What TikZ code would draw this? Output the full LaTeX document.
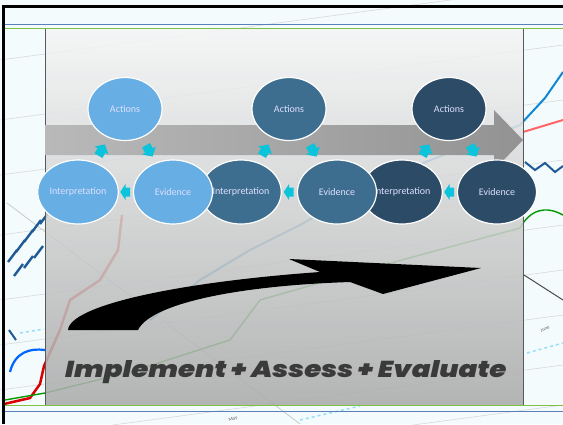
\documentclass[tikz,border=0pt]{standalone}
\usepackage{fontspec}
\setmainfont{Carlito}
\newfontfamily\bannerfont{Poppins Black Italic}
\usetikzlibrary{shapes.geometric, calc}

\definecolor{lightstage}{HTML}{66AEE3}
\definecolor{midstage}{HTML}{3E6E8F}
\definecolor{darkstage}{HTML}{2B4B67}
\definecolor{cyanflow}{HTML}{0BC3DA}
\definecolor{slidebg}{HTML}{F3FBFD}
\definecolor{ruleblue}{HTML}{5B80B8}
\definecolor{rulegreen}{HTML}{7DC242}
\definecolor{bannergray}{HTML}{3A3A3A}
\definecolor{chartblue}{HTML}{1F5A96}

\begin{document}
\begin{tikzpicture}[
    x=1pt, y=-1pt,
    stage/.style={ellipse, draw=white, line width=1.2pt, minimum width=79pt, minimum height=64pt,
        inner sep=0pt, text=white!88!blue, font=\fontsize{10}{11}\selectfont},
    topstage/.style={stage, minimum width=74pt, minimum height=63pt},
    gridline/.style={gray!30, line width=0.6pt},
    flow/.pic={\fill[cyanflow] (-6,-4.5) -- (0,-4.5) -- (0,-8) -- (7,0) -- (0,8) -- (0,4.5) -- (-6,4.5) -- cycle;}
]
\useasboundingbox (0,0) rectangle (563,424);

% Slide background with the chart
\fill[slidebg] (0,0) rectangle (563,424);
\foreach \y in {60,120,175,235,300,345,390,440,480}
    \draw[gridline] (0,\y) -- (563,\y-75);
\draw[gray!45, line width=0.7pt] (7,203) -- (300,424);
\draw[black!70, line width=1pt] (524,275) -- (563,300);
\foreach \x/\y in {8/262,16/252,24/242,32/232,40/224,14/276,24/268,34/258}
    \draw[chartblue, line width=2.4pt] (\x,\y) -- (\x+9,\y-12);
\draw[chartblue, line width=2pt] (9,330) -- (16,340);
\draw[blue!60!cyan, line width=2.2pt] (10,372) .. controls (15,352) and (30,348) .. (45,350);
\draw[red!85!black, line width=2.5pt] (4,404) -- (30,398) -- (40,384) -- (44,366)
    -- (60,330) -- (70,300) -- (100,280) -- (118,250) -- (122,215);
\draw[green!60!black, line width=1.4pt] (5,400) -- (45,393) -- (130,372) -- (230,340) -- (260,300) -- (330,280) -- (420,255) -- (520,228)
    .. controls (530,210) and (545,205) .. (563,215);
\draw[cyan!70!blue, line width=2pt] (150,320) -- (200,280) -- (250,250) -- (300,225) -- (380,180) -- (520,125) -- (545,98) -- (563,72);
\draw[red!60, line width=2pt] (523,132) -- (563,120);
\draw[chartblue, line width=2pt] (525,162) -- (535,170) -- (545,163) -- (555,172) -- (563,166);
\draw[cyan!40, line width=1.5pt, dashed] (20,333) -- (44,329);
\draw[cyan!40, line width=1.5pt, dashed] (527,353) -- (563,343);
\draw[cyan!40, line width=1.5pt, dashed] (300,420) -- (360,406);
\node[gray!75!black, rotate=25, font=\tiny] (june) at (545,329) {June};
\node[gray!75!black, rotate=15, font=\tiny] (may) at (233,419) {May};

% Frame and rules
\draw[black, line width=3pt] (3.5,424) -- (3.5,6.5) -- (563,6.5);
\draw[ruleblue, line width=1.2pt] (5,24.5) -- (563,24.5);
\draw[ruleblue, line width=1.2pt] (5,411.5) -- (563,411.5);

% Panel
\shade[top color=gray!8, bottom color=gray!66, fill opacity=0.88] (45,29) rectangle (523,405);
\draw[gray!70!black, line width=0.7pt] (45,29) -- (45,405) (523,29) -- (523,405);
\draw[rulegreen, line width=1.5pt] (5,28.5) -- (563,28.5);
\draw[rulegreen, line width=1.5pt] (5,405.5) -- (563,405.5);

% Gray arrow
\shade[left color=gray!55, right color=gray!85] (45,125) -- (494,125) -- (494,110)
    -- (523,140) -- (494,170) -- (494,155) -- (45,155) -- cycle;

% Stages, right group first
\node[stage, fill=darkstage] (i3) at (402,192) {Interpretation};
\node[stage, fill=darkstage] (e3) at (497,192) {Evidence};
\node[topstage, fill=darkstage] (a3) at (449,109) {Actions};
\node[stage, fill=midstage] (i2) at (241,192) {Interpretation};
\node[stage, fill=midstage] (e2) at (337,192) {Evidence};
\node[topstage, fill=midstage] (a2) at (289,109) {Actions};
\node[stage, fill=lightstage] (i1) at (78,192) {Interpretation};
\node[stage, fill=lightstage] (e1) at (173,192) {Evidence};
\node[topstage, fill=lightstage] (a1) at (125,109) {Actions};

% Cycle arrows
\foreach \g in {1,2,3} {
    \pic[rotate=60] at ($(i\g)!0.5!(a\g)$) {flow};
    \pic[rotate=-60] at ($(a\g)!0.5!(e\g)$) {flow};
    \pic[rotate=180, xscale=0.75] at ($(e\g)!0.5!(i\g)$) {flow};
}

% Black curved arrow
\fill[black] (68,330) .. controls (70,305) and (180,282) .. (320,272) -- (289,259) -- (481,268)
    -- (383,294) -- (350,282) .. controls (230,286) and (150,305) .. (138,330) -- cycle;

\node[font=\bannerfont\fontsize{23}{23}\selectfont, text=bannergray, anchor=base west, inner sep=0pt,
    xscale=1.2, transform shape] (banner) at (65,377) {Implement + Assess + Evaluate};

\end{tikzpicture}
\end{document}
